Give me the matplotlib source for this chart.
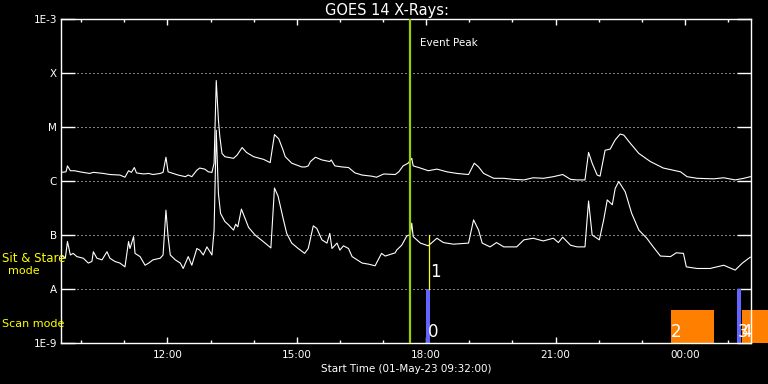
"""
plot.py - GOES 14 X-ray light curve (long and short channel) with
event peak marker and observing-mode bars.
"""

import matplotlib

matplotlib.use("Agg")
import matplotlib.pyplot as plt
from matplotlib.ticker import FixedLocator, NullLocator
import numpy as np


# time axis: minutes after 01-May-23 09:32:00
START_LABEL = "Start Time (01-May-23 09:32:00)"
SPAN_MIN = 960

# long channel (1-8 A), log10 flux W/m^2
long_min = [0, 7, 9, 13, 19, 26, 40, 45, 59, 68, 82, 89, 94, 98, 102, 105, 115,
            122, 128, 138, 142, 146, 149, 156, 163, 173, 177, 182, 189, 193, 200,
            205, 210, 213, 216, 219, 221, 224, 228, 240, 245, 252, 258, 268, 282,
            291, 297, 303, 309, 312, 321, 335, 340, 344, 347, 354, 363, 374, 376,
            381, 391, 400, 409, 419, 432, 439, 449, 465, 470, 476, 483, 488, 490,
            500, 511, 523, 537, 551, 567, 575, 581, 588, 602, 616, 630, 644, 657,
            671, 685, 698, 709, 718, 729, 734, 739, 746, 750, 757, 764, 771, 778,
            783, 792, 804, 820, 838, 862, 871, 885, 908, 922, 938, 950, 959]
long_log = [-5.84, -5.83, -5.72, -5.81, -5.81, -5.83, -5.86, -5.84, -5.86, -5.88,
            -5.89, -5.93, -5.81, -5.84, -5.75, -5.85, -5.87, -5.86, -5.88, -5.86,
            -5.84, -5.56, -5.83, -5.86, -5.89, -5.92, -5.89, -5.92, -5.80, -5.76,
            -5.78, -5.83, -5.84, -5.67, -4.14, -4.87, -5.18, -5.49, -5.55, -5.58,
            -5.52, -5.38, -5.47, -5.55, -5.60, -5.66, -5.14, -5.22, -5.43, -5.55,
            -5.67, -5.74, -5.74, -5.72, -5.64, -5.56, -5.61, -5.64, -5.61, -5.72,
            -5.74, -5.75, -5.85, -5.89, -5.91, -5.93, -5.87, -5.88, -5.83, -5.72,
            -5.67, -5.58, -5.72, -5.76, -5.81, -5.78, -5.83, -5.86, -5.88, -5.67,
            -5.74, -5.86, -5.95, -5.95, -5.97, -5.98, -5.94, -5.95, -5.92, -5.88,
            -5.97, -5.98, -5.98, -5.47, -5.67, -5.89, -5.91, -5.43, -5.41, -5.24,
            -5.13, -5.15, -5.30, -5.49, -5.64, -5.76, -5.83, -5.92, -5.95, -5.96,
            -5.94, -5.98, -5.95, -5.92]

# short channel (0.5-4 A), log10 flux W/m^2
short_min = [0, 6, 9, 13, 17, 22, 31, 38, 43, 45, 50, 57, 64, 68, 75, 82, 89, 94,
             96, 101, 103, 110, 117, 122, 128, 138, 142, 146, 149, 152, 159, 166,
             170, 177, 182, 189, 193, 198, 203, 210, 213, 216, 219, 222, 228, 233,
             240, 243, 246, 251, 256, 261, 270, 284, 292, 297, 302, 309, 314, 321,
             330, 339, 344, 351, 356, 363, 370, 374, 377, 384, 388, 393, 400, 405,
             419, 428, 437, 446, 451, 465, 467, 474, 481, 486, 488, 490, 500, 511,
             523, 532, 546, 567, 574, 581, 586, 597, 606, 616, 634, 644, 657, 671,
             685, 692, 698, 709, 718, 729, 734, 739, 749, 755, 760, 767, 771, 776,
             785, 794, 804, 815, 824, 834, 848, 856, 866, 870, 885, 903, 922, 938,
             948, 959]
short_log = [-7.37, -7.43, -7.12, -7.37, -7.34, -7.40, -7.43, -7.52, -7.49, -7.31,
             -7.43, -7.46, -7.31, -7.43, -7.49, -7.52, -7.59, -7.12, -7.25, -7.03,
             -7.34, -7.40, -7.56, -7.52, -7.46, -7.43, -7.37, -6.54, -7.03, -7.37,
             -7.46, -7.52, -7.62, -7.40, -7.56, -7.25, -7.28, -7.37, -7.22, -7.37,
             -6.91, -5.06, -6.23, -6.60, -6.75, -6.81, -6.91, -6.80, -6.85, -6.52,
             -6.69, -6.86, -7.00, -7.15, -7.24, -6.13, -6.28, -6.69, -6.97, -7.15,
             -7.25, -7.34, -7.25, -6.83, -6.88, -7.09, -7.15, -6.97, -7.25, -7.15,
             -7.28, -7.20, -7.25, -7.40, -7.52, -7.54, -7.57, -7.34, -7.39, -7.33,
             -7.28, -7.19, -7.02, -6.99, -6.78, -7.03, -7.15, -7.20, -7.06, -7.14,
             -7.17, -7.15, -6.72, -6.91, -7.15, -7.22, -7.14, -7.22, -7.22, -7.09,
             -7.06, -7.11, -7.06, -7.14, -7.04, -7.19, -7.22, -7.22, -6.37, -7.00,
             -7.09, -6.72, -6.35, -6.44, -6.14, -6.01, -6.20, -6.60, -6.91, -7.06,
             -7.22, -7.39, -7.40, -7.33, -7.34, -7.59, -7.62, -7.62, -7.56, -7.65,
             -7.52, -7.41]

EVENT_PEAK_MIN = 486

# observing-mode intervals: (start, end) minutes
sit_stare_bars = [(508, 513.5), (940.5, 946)]
scan_bars = [(848, 909), (947, 990)]
sit_stare_line_min = 512.5
mode_labels = [("0", 510, 1.1e-9), ("1", 513, 1.4e-8), ("2", 849, 1.1e-9),
               ("3", 942, 1.1e-9), ("4", 946, 1.1e-9)]

xtick_major_min = [148, 328, 508, 688, 868]
xtick_major_lbl = ["12:00", "15:00", "18:00", "21:00", "00:00"]
xtick_minor_min = [28 + 60 * i for i in range(16)]

ytick_vals = [1e-9, 1e-8, 1e-7, 1e-6, 1e-5, 1e-4, 1e-3]
ytick_lbl = ["1E-9", "A", "B", "C", "M", "X", "1E-3"]

BLUE = "#6464ff"
ORANGE = "#ff8000"
GREEN = "#9acd00"
YELLOW = "#ffff00"


def main():
    fig = plt.figure(figsize=(7.68, 3.84), dpi=100)
    fig.patch.set_facecolor("black")
    ax = fig.add_axes([61 / 768, 41 / 384, 690 / 768, 324 / 384])
    ax.set_facecolor("black")

    ax.set_yscale("log")
    ax.set_xlim(0, SPAN_MIN)
    ax.set_ylim(1e-9, 1e-3)

    for y in ytick_vals[1:-1]:
        ax.axhline(y, color="white", lw=0.72, ls=(0, (1, 3)), zorder=1)

    ax.plot(long_min, 10 ** np.array(long_log), color="white", lw=0.8, zorder=3)
    ax.plot(short_min, 10 ** np.array(short_log), color="white", lw=0.8, zorder=3)

    ax.axvline(EVENT_PEAK_MIN, color=GREEN, lw=1.6, zorder=4)
    ax.text(EVENT_PEAK_MIN + 14, 3.6e-4, "Event Peak", color="white",
            fontsize=7.5, va="center", ha="left")

    # observing mode bars
    for x0, x1 in scan_bars:
        ax.fill_between([x0, x1], 1e-9, 4.1e-9, color=ORANGE, lw=0,
                        zorder=2, clip_on=False)
    for x0, x1 in sit_stare_bars:
        ax.fill_between([x0, x1], 1e-9, 1e-8, color=BLUE, lw=0, zorder=2)
    ax.plot([sit_stare_line_min, sit_stare_line_min], [1e-8, 1e-7],
            color=YELLOW, lw=0.9, zorder=3)
    for lbl, x, y in mode_labels:
        ax.text(x, y, lbl, color="white", fontsize=12, ha="left", va="bottom",
                zorder=5, clip_on=False)

    ax.xaxis.set_major_locator(FixedLocator(xtick_major_min))
    ax.xaxis.set_minor_locator(FixedLocator(xtick_minor_min))
    ax.set_xticklabels(xtick_major_lbl)
    ax.yaxis.set_major_locator(FixedLocator(ytick_vals))
    ax.yaxis.set_minor_locator(NullLocator())
    ax.set_yticklabels(ytick_lbl)

    ax.tick_params(axis="x", which="major", direction="in", length=4.3,
                   width=1, top=True, colors="white", labelsize=7.5, pad=5)
    ax.tick_params(axis="x", which="minor", direction="in", length=2.2,
                   width=1, top=True, colors="white")
    ax.tick_params(axis="y", which="major", direction="in", length=10,
                   width=1, right=True, colors="white", labelsize=7.5, pad=3)
    for spine in ax.spines.values():
        spine.set_color("white")
        spine.set_linewidth(1)

    ax.set_xlabel(START_LABEL, color="white", fontsize=7.5, labelpad=3)
    fig.text(387 / 768, 1 - 10 / 384, "GOES 14 X-Rays:", color="white",
             fontsize=10.5, ha="center", va="center")

    fig.text(2 / 768, 1 - 258 / 384, "Sit & Stare", color=YELLOW, fontsize=8.5,
             ha="left", va="center", zorder=10)
    fig.text(24 / 768, 1 - 271 / 384, "mode", color=YELLOW, fontsize=8,
             ha="center", va="center", zorder=10)
    fig.text(2 / 768, 1 - 324 / 384, "Scan mode", color=YELLOW, fontsize=8,
             ha="left", va="center", zorder=10)

    fig.savefig("out.png", dpi=100, facecolor="black")
    plt.close(fig)


if __name__ == "__main__":
    main()
